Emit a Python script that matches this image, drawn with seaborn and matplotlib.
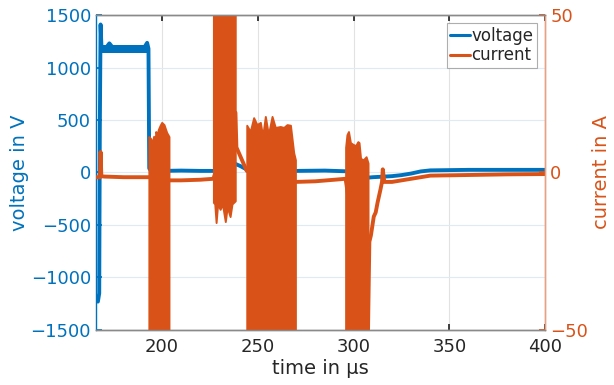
import matplotlib
matplotlib.use("Agg")
import matplotlib.pyplot as plt
import seaborn as sns

# ---------------- data ----------------
# voltage trace (left axis, V)
volt_t = [165.0, 166.5, 167.2, 167.5, 167.9, 168.4, 170, 172.5, 175, 180, 185, 190,
          192.2, 192.9, 193.3, 194, 200, 210, 220, 227, 238.5, 241, 244, 255, 270,
          285, 295, 300, 304, 305.3, 306.0, 307, 310, 315, 320, 325, 330, 335, 340,
          360, 380, 400]
volt_v = [-1200, -1230, -1150, 400, 1410, 1180, 1170, 1230, 1172, 1170, 1172, 1170,
          1235, 1180, 40, 20, 15, 18, 15, 15, 80, 60, 30, 15, 15,
          18, 12, 10, 0, -150, -40, -50, -45, -40, -35, -25, -10, 10, 20,
          25, 25, 25]
# noise band of the voltage plateau
plateau_t = [168.4, 193.0]
plateau_hi = [1210, 1210]
plateau_lo = [1135, 1135]

# current trace between the bursts (right axis, A)
cur_t = [165.0, 167.6, 167.9, 168.3, 170, 180, 190, 193.1,
         203.6, 210, 220, 226.8,
         238.2, 238.3, 238.8, 244.2,
         269.6, 280, 290, 295.8,
         307.5, 308.2, 309.0, 310.5, 311.5, 312.5, 314.0, 314.8, 315.2, 316.0,
         320, 330, 340, 360, 380, 400]
cur_i = [-1.5, -1.5, 6.5, -1.2, -1.3, -1.5, -1.5, -1.5,
         -2.5, -2.5, -2.3, -2.0,
         19.0, 19.0, 8.0, 0.5,
         -3.0, -2.8, -2.3, -2.0,
         -50.0, -22.0, -20.0, -14.0, -12.7, -9.5, -5.4, -3.0, 1.0, -3.0,
         -3.0, -2.0, -1.0, -0.8, -0.6, -0.5]

# oscillation bursts of the current: envelope (upper / lower)
b1_t = [193.1, 194.0, 194.9, 195.6, 196.3, 196.7, 197.5, 198.0, 199.0, 199.8, 201.0, 202.4, 203.6]
b1_hi = [11.4, 10.8, 9.5, 11.5, 8.0, 13.0, 12.0, 13.6, 15.0, 15.9, 15.2, 12.7, 11.4]
b1_lo = [-60, -60, -60, -60, -60, -60, -60, -60, -60, -60, -60, -60, -60]

b2_t = [226.8, 227.5, 228.2, 229.0, 230.3, 231.5, 233.0, 234.0, 235.5, 236.5, 238.2]
b2_hi = [60, 60, 60, 60, 60, 60, 60, 60, 60, 60, 60]
b2_lo = [-9.5, -10.0, -15.9, -10.0, -11.7, -10.0, -15.6, -11.0, -14.0, -10.0, -9.0]

b3_t = [244.2, 246.0, 247.8, 249.5, 251.3, 252.5, 253.9, 255.5, 257.4, 259.1, 261.7,
        263.5, 265.2, 267.0, 268.7, 269.6]
b3_hi = [15.0, 13.0, 17.4, 15.2, 15.9, 11.5, 17.8, 12.0, 17.8, 14.3, 14.6,
         14.3, 15.2, 15.0, 6.3, 4.0]
b3_lo = [-60, -60, -60, -60, -60, -60, -60, -60, -60, -60, -60,
         -60, -60, -60, -60, -60]

b4_t = [295.8, 296.5, 297.3, 298.3, 299.5, 301.0, 302.2, 302.8, 303.6, 305.0, 306.5, 307.5]
b4_hi = [8.0, 12.0, 13.0, 9.5, 9.0, 8.5, 9.8, 9.5, 4.5, 4.0, 5.0, 3.0]
b4_lo = [-60, -60, -60, -60, -60, -60, -60, -60, -60, -60, -60, -60]

x_ticks = [200, 250, 300, 350, 400]
v_ticks = [-1500, -1000, -500, 0, 500, 1000, 1500]
i_ticks = [-50, 0, 50]

# ---------------- style ----------------
BLUE = "#0072BD"
ORANGE = "#D95319"
sns.set_theme(style="white")
plt.rcParams["font.family"] = ["DejaVu Sans"]

fig = plt.figure(figsize=(6.14, 3.85), dpi=100)
ax = fig.add_axes([0.156, 0.143, 0.732, 0.818])
ax2 = ax.twinx()

# voltage
ax.fill_between(plateau_t, plateau_lo, plateau_hi, color=BLUE, linewidth=0)
sns.lineplot(x=volt_t, y=volt_v, ax=ax, color=BLUE, linewidth=2.8,
             sort=False, estimator=None, label="voltage", legend=False)

# current
sns.lineplot(x=cur_t, y=cur_i, ax=ax2, color=ORANGE, linewidth=2.8,
             sort=False, estimator=None, label="current", legend=False)
for bt, bh, bl in [(b1_t, b1_hi, b1_lo), (b2_t, b2_hi, b2_lo),
                   (b3_t, b3_hi, b3_lo), (b4_t, b4_hi, b4_lo)]:
    ax2.fill_between(bt, bl, bh, color=ORANGE, linewidth=1.4, edgecolor=ORANGE)

ax.set_xlim(165.4, 400)
ax.set_ylim(-1500, 1500)
ax2.set_ylim(-50, 50)
ax.set_xticks(x_ticks)
ax.set_yticks(v_ticks)
ax2.set_yticks(i_ticks)

ax.grid(True, axis="x", color="#e2e2e2", linewidth=0.8)
ax.grid(True, axis="y", color="#deebf6", linewidth=0.8)
ax.set_axisbelow(True)

ax.tick_params(axis="x", direction="in", length=4, labelsize=13, colors="#262626",
               top=True, bottom=True, pad=6)
ax.tick_params(axis="y", direction="in", length=4, labelsize=13, colors=BLUE, left=True)
ax2.tick_params(axis="y", direction="in", length=4, labelsize=13, colors=ORANGE, right=True)

ax.set_xlabel("time in µs", fontsize=14, color="#262626", labelpad=2)
ax.set_ylabel("voltage in V", fontsize=14, color=BLUE, labelpad=1)
ax2.set_ylabel("current in A", fontsize=14, color=ORANGE, labelpad=3)

for a in (ax, ax2):
    a.spines["top"].set_color("#8a8a8a")
    a.spines["bottom"].set_color("#8a8a8a")
    a.spines["left"].set_color(BLUE)
    a.spines["right"].set_color("#e8a184")
    for s in a.spines.values():
        s.set_linewidth(1.0)
ax2.spines["left"].set_visible(False)

h1, l1 = ax.get_legend_handles_labels()
h2, l2 = ax2.get_legend_handles_labels()
leg = ax2.legend(h1 + h2, l1 + l2, loc="upper right", fontsize=12, frameon=True,
                 fancybox=False, edgecolor="#9a9a9a", handlelength=1.2,
                 handletextpad=0.1, borderpad=0.2, labelspacing=0.1,
                 borderaxespad=0.5)
leg.get_frame().set_linewidth(0.8)
for line in leg.get_lines():
    line.set_linewidth(2.2)

fig.savefig("out.png", dpi=100)
